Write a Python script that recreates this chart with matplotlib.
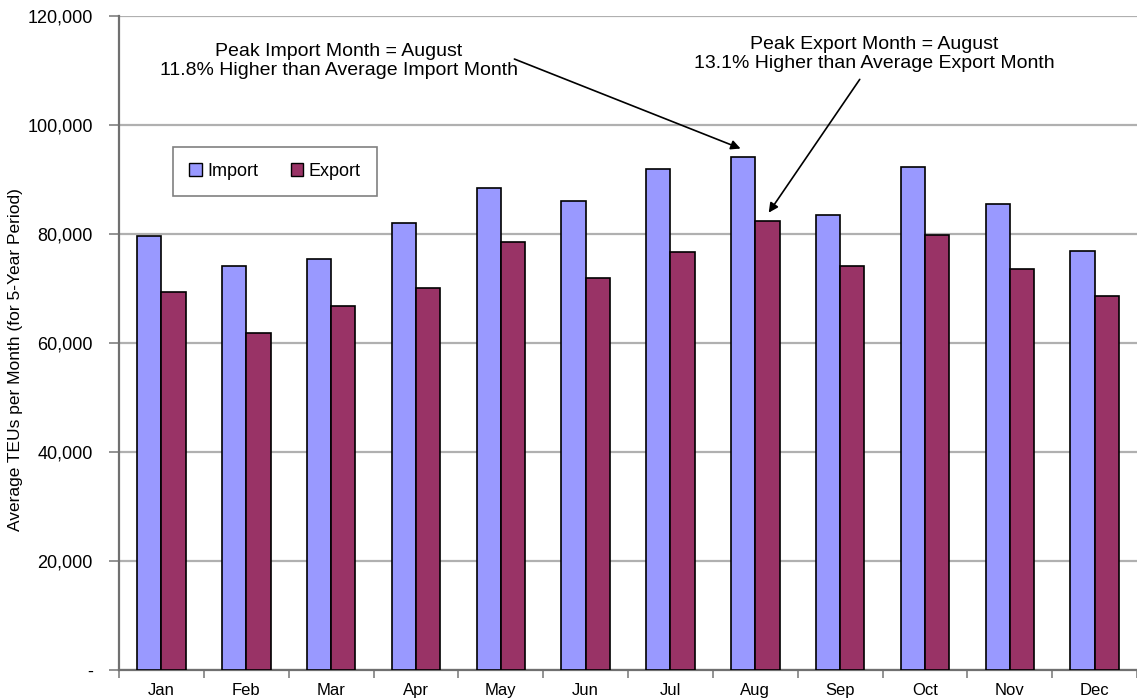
import matplotlib.pyplot as plt
import numpy as np
from matplotlib.patches import Patch
from matplotlib.ticker import FuncFormatter

months = ["Jan", "Feb", "Mar", "Apr", "May", "Jun", "Jul", "Aug", "Sep", "Oct", "Nov", "Dec"]
imports = [79700, 74100, 75500, 82100, 88500, 86000, 92000, 94100, 83500, 92300, 85600, 76900]
exports = [69300, 61900, 66800, 70100, 78600, 72000, 76700, 82400, 74100, 79800, 73600, 68600]

plt.rcParams['font.family'] = ['Liberation Sans', 'DejaVu Sans']

fig = plt.figure(figsize=(11.37, 6.98), dpi=100)
ax = fig.add_axes([0.1047, 0.0401, 0.8953, 0.9369])

x = np.arange(len(months))
w = 0.2857
ax.bar(x - w/2, imports, w, color='#9999FF', edgecolor='black', linewidth=1.2, zorder=3)
ax.bar(x + w/2, exports, w, color='#993366', edgecolor='black', linewidth=1.2, zorder=3)

ax.set_xlim(-0.5, 11.43)
ax.set_ylim(0, 120000)

# y axis
ax.set_yticks(np.arange(0, 120001, 20000))
ax.yaxis.set_major_formatter(FuncFormatter(lambda v, p: '-' if v == 0 else f'{v:,.0f}'))
ax.tick_params(axis='y', labelsize=13, length=7, width=1.2, color='#808080', pad=12)
ax.grid(axis='y', color='#b0b0b0', linewidth=1.6, zorder=0)
ax.set_ylabel('Average TEUs per Month (for 5-Year Period)', fontsize=12.5)
ax.yaxis.set_label_coords(-0.094, 0.474)

# x axis: ticks on category boundaries, labels at centers
ax.set_xticks(np.arange(-0.5, 12, 1))
ax.set_xticklabels([])
ax.set_xticks(x, minor=True)
ax.set_xticklabels(months, minor=True, fontsize=12)
ax.tick_params(axis='x', which='major', length=6, width=1.2, color='#808080')
ax.tick_params(axis='x', which='minor', length=0, pad=9)

for s in ['top', 'right']:
    ax.spines[s].set_visible(False)
ax.spines['left'].set_color('#707070')
ax.spines['left'].set_linewidth(1.6)
ax.spines['bottom'].set_color('#707070')
ax.spines['bottom'].set_linewidth(1.6)

# legend
handles = [Patch(facecolor='#9999FF', edgecolor='black', label='Import'),
           Patch(facecolor='#993366', edgecolor='black', label='Export')]
leg = ax.legend(handles=handles, loc='upper left', bbox_to_anchor=(0.053, 0.80), ncol=2,
                fontsize=13, frameon=True, fancybox=False, edgecolor='#606060',
                handlelength=0.7, handleheight=0.7, handletextpad=0.3, columnspacing=1.8,
                borderpad=0.9, borderaxespad=0)
leg.get_frame().set_linewidth(1.2)

# annotations
ax.text(2.09, 111700, 'Peak Import Month = August\n11.8% Higher than Average Import Month',
        ha='center', va='center', fontsize=14, linespacing=1.15)
ax.annotate('', xy=(6.857, 95500), xytext=(4.13, 112300),
            arrowprops=dict(arrowstyle='-|>', color='black', lw=1.2, mutation_scale=14))
ax.text(8.40, 113000, 'Peak Export Month = August\n13.1% Higher than Average Export Month',
        ha='center', va='center', fontsize=14, linespacing=1.15)
ax.annotate('', xy=(7.14, 83500), xytext=(8.25, 108800),
            arrowprops=dict(arrowstyle='-|>', color='black', lw=1.2, mutation_scale=14))

fig.savefig('out.png', dpi=100)
